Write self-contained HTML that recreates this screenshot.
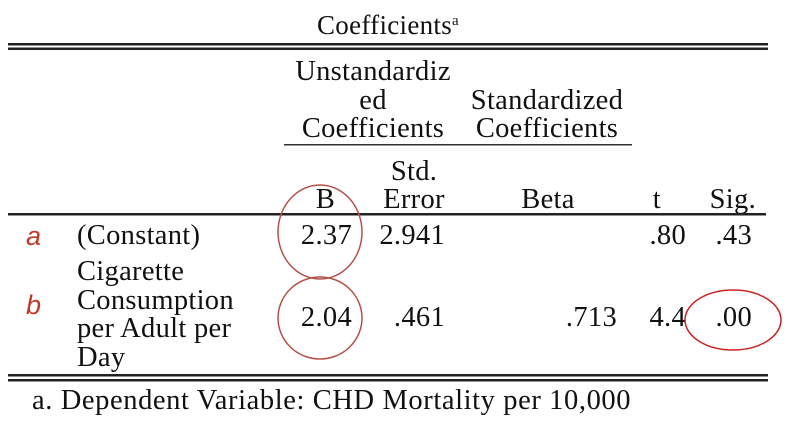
<!DOCTYPE html>
<html><head><meta charset="utf-8"><style>
html,body{margin:0;padding:0;background:#fff;}
svg{display:block;}
text{font-family:"Liberation Serif",serif;font-size:28.5px;fill:#111;letter-spacing:0.3px;}
</style></head><body>
<svg width="804" height="428" viewBox="0 0 804 428">
<g>
<text x="388" y="34" text-anchor="middle" style="font-size:27px">Coefficients<tspan font-size="15" dy="-9">a</tspan></text>
</g>
<rect x="8" y="43" width="760" height="2.5" fill="#222"/>
<rect x="8" y="47.5" width="760" height="2.5" fill="#222"/>
<g>
<text x="373" y="80" text-anchor="middle">Unstandardiz</text>
<text x="373" y="109" text-anchor="middle">ed</text>
<text x="373" y="137" text-anchor="middle">Coefficients</text>
</g>
<g>
<text x="547" y="109" text-anchor="middle">Standardized</text>
<text x="547" y="137" text-anchor="middle">Coefficients</text>
</g>
<rect x="284" y="144" width="348" height="1.5" fill="#333"/>
<text x="335" y="208" text-anchor="end">B</text>
<text x="414" y="180" text-anchor="middle">Std.</text>
<text x="414" y="208" text-anchor="middle">Error</text>
<text x="548" y="208" text-anchor="middle">Beta</text>
<text x="661" y="208" text-anchor="end">t</text>
<text x="756" y="208" text-anchor="end">Sig.</text>
<rect x="8" y="213" width="758" height="2.5" fill="#222"/>
<g>
<text x="26" y="245" style="font-family:'Liberation Sans',sans-serif;font-style:italic;fill:#c0392b;font-size:27px;letter-spacing:0">a</text>
<text x="77" y="244">(Constant)</text>
<text x="352" y="244" text-anchor="end">2.37</text>
<text x="445" y="244" text-anchor="end">2.941</text>
<text x="686" y="244" text-anchor="end">.80</text>
<text x="752" y="244" text-anchor="end">.43</text>
</g>
<g>
<text x="26" y="314" style="font-family:'Liberation Sans',sans-serif;font-style:italic;fill:#c0392b;font-size:27px;letter-spacing:0">b</text>
<text x="77" y="280">Cigarette</text>
<text x="77" y="309">Consumption</text>
<text x="77" y="337">per Adult per</text>
<text x="77" y="366">Day</text>
<text x="352" y="326" text-anchor="end">2.04</text>
<text x="445" y="326" text-anchor="end">.461</text>
<text x="617" y="326" text-anchor="end">.713</text>
<text x="686" y="326" text-anchor="end">4.4</text>
<text x="752" y="326" text-anchor="end">.00</text>
</g>
<rect x="8" y="374" width="760" height="2.5" fill="#222"/>
<rect x="8" y="379" width="760" height="2.5" fill="#222"/>
<text x="32" y="409" style="letter-spacing:0.6px">a. Dependent Variable: CHD Mortality per 10,000</text>
<ellipse cx="320" cy="232" rx="42" ry="47" fill="none" stroke="#b5524a" stroke-width="1.5"/>
<ellipse cx="320" cy="318" rx="42" ry="41" fill="none" stroke="#b5524a" stroke-width="1.5"/>
<ellipse cx="733" cy="320" rx="48" ry="30" fill="none" stroke="#cc2222" stroke-width="1.5"/>
</svg>
</body></html>
